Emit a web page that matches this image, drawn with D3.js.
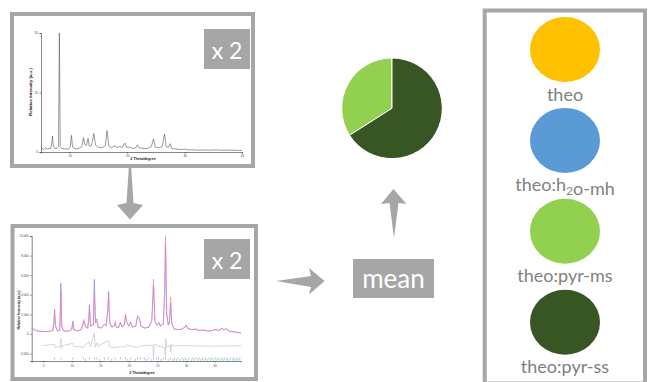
<!DOCTYPE html>
<html>
<head>
<meta charset="utf-8">
<script src="https://cdn.jsdelivr.net/npm/d3@7"></script>
<style>
  html, body { margin: 0; padding: 0; background: #fff; }
  svg { display: block; }
</style>
</head>
<body>
<div id="chart"></div>
<script>
// ---- phases and mean composition ----
const phaseLabels = ['theo', 'theo:h2o-mh', 'theo:pyr-ms', 'theo:pyr-ss'];
const phaseColors = ['#ffc000', '#5b9bd5', '#92d050', '#375623'];
const meanFractions = [0, 0, 34, 66];

// ---- top panel: measured powder pattern ----
const topTheta = [5.0, 5.2, 5.5, 5.8, 6.1, 6.4, 6.7, 6.85, 7.0, 7.15, 7.4, 7.8, 8.05, 8.2, 8.35, 8.6, 9.2, 9.8,
  10.1, 10.3, 10.5, 11.0, 11.6, 12.1, 12.4, 12.6, 12.9, 13.2, 13.4, 13.8, 14.2, 14.5, 14.8, 15.3, 15.8, 16.2,
  16.5, 16.8, 17.3, 17.9, 18.2, 18.8, 19.1, 19.6, 19.9, 20.5, 21.0, 21.5, 21.8, 22.1, 22.8, 23.5, 24.2, 24.6,
  24.9, 25.5, 26.1, 26.5, 26.8, 27.2, 27.5, 27.8, 28.5, 29.5, 30.1, 30.5, 31.5, 32.5, 33.5, 34.5, 35.5, 36.5,
  37.5, 38.5, 40.0];
const topIntensity = [0.3, 0.6, 0.4, 0.7, 0.5, 0.6, 0.6, 1.2, 2.7, 1.0, 0.6, 0.6, 0.9, 20, 0.9, 0.6, 0.5, 0.5,
  0.9, 2.8, 0.8, 0.5, 0.6, 0.9, 2.4, 1.3, 1.1, 2.3, 1.0, 1.1, 3.1, 1.2, 0.9, 0.7, 0.8, 1.1,
  3.6, 1.0, 0.7, 1.1, 0.7, 1.0, 0.7, 1.5, 0.8, 0.8, 0.6, 0.7, 1.2, 0.7, 0.6, 0.6, 0.9, 2.2,
  0.8, 0.7, 0.9, 3.0, 0.9, 0.8, 1.4, 0.6, 0.5, 0.4, 0.5, 0.35, 0.35, 0.3, 0.35, 0.3, 0.35, 0.3,
  0.3, 0.3, 0.25];
const topXTicks = [10, 20, 30, 40];
const topYTicks = [0, 10, 20];

// ---- bottom panel: Rietveld fit ----
const fitTheta = [3.0, 3.5, 4.0, 5.0, 6.0, 6.7, 6.9, 7.0, 7.15, 7.5, 7.9, 8.0, 8.1, 8.25, 8.6, 9.5, 10.0, 10.2,
  10.4, 11.0, 11.7, 12.0, 12.15, 12.4, 12.8, 13.0, 13.1, 13.3, 13.8, 13.95, 14.15, 14.4, 14.6, 15.2, 15.7, 16.0,
  16.3, 16.45, 16.65, 17.0, 17.4, 17.6, 17.8, 18.2, 18.5, 18.8, 19.2, 19.4, 19.6, 20.0, 20.3, 20.6, 21.2, 21.5,
  21.8, 22.1, 22.8, 23.5, 24.0, 24.3, 24.55, 24.9, 25.2, 25.5, 26.0, 26.25, 26.4, 26.6, 26.9, 27.1, 27.3, 27.5,
  27.9, 28.6, 29.3, 29.8, 30.0, 30.3, 31.0, 31.7, 32.2, 33.0, 33.8, 34.6, 35.2, 35.8, 36.3, 36.6, 37.0, 37.5,
  38.5, 39.6];
const fitObserved = [700, 450, 320, 250, 250, 350, 1400, 2520, 900, 300, 350, 2500, 5170, 800, 300, 300, 500, 1330,
  450, 300, 450, 1100, 1330, 700, 600, 1800, 2960, 800, 1000, 5580, 1200, 1530, 700, 600, 1000, 800,
  2500, 4320, 1200, 700, 800, 1090, 700, 650, 1100, 700, 900, 1870, 1200, 800, 1230, 700, 800, 1700,
  1600, 800, 600, 700, 1300, 4900, 1200, 900, 1200, 800, 1000, 4000, 9150, 2000, 900, 1200, 3130, 1000,
  500, 450, 500, 700, 900, 550, 450, 500, 350, 400, 300, 350, 450, 350, 600, 400, 550, 300,
  200, 100];
const fitCalculated = [550, 380, 300, 250, 250, 330, 1200, 2170, 800, 300, 330, 2000, 4390, 700, 300, 300, 450, 1090,
  420, 300, 450, 1200, 1500, 750, 600, 1500, 2520, 800, 900, 4220, 1100, 1230, 650, 600, 1000, 800,
  2200, 3750, 1100, 700, 800, 1330, 700, 650, 1230, 700, 900, 2040, 1250, 800, 1230, 700, 800, 1940,
  1700, 800, 600, 700, 1400, 5610, 1300, 900, 1200, 850, 1000, 4500, 10030, 2100, 900, 1300, 3810, 1100,
  500, 450, 500, 700, 880, 550, 450, 500, 350, 400, 300, 350, 450, 350, 600, 400, 550, 300,
  200, 100];
const diffTheta = [5.0, 7.0, 7.1, 8.05, 8.1, 8.2, 8.35, 10.2, 10.35, 12.1, 12.3, 13.1, 13.25, 13.95, 14.1, 14.4,
  14.6, 16.45, 16.6, 17.6, 18.5, 19.4, 19.6, 21.5, 22.0, 24.2, 24.3, 24.45, 25.0, 26.3, 26.35, 26.45, 26.6,
  27.25, 27.3, 27.45, 28.0, 30.0, 35.0, 39.6];
const diffValues = [-1200, -1050, -1350, -1300, -450, -1500, -1200, -950, -1250, -1350, -1150, -800, -1300, 80, -1350, -900,
  -1250, -650, -1300, -1400, -1300, -1350, -1100, -1400, -1200, -1150, -2300, -1000, -1200, -1400, -2300, -500, -1300,
  -1200, -1850, -1100, -1200, -1200, -1250, -1200];
const reflectionsBlue = [7.0, 8.1, 10.2, 12.1, 13.1, 14.0, 14.4, 15.7, 16.4, 17.6, 18.5, 19.4, 20.3, 21.5, 22.0, 22.7,
  23.4, 24.3, 24.8, 25.2, 26.0, 26.4, 27.3, 28.0, 28.6, 29.3, 29.9, 30.5, 31.2, 31.7, 32.3, 32.9, 33.4, 34.0,
  34.5, 35.1, 35.6, 36.2, 36.7, 37.2, 37.8, 38.3, 38.9, 39.4];
const reflectionsGreen = [12.4, 14.9, 17.0, 19.8, 21.1, 23.0, 24.0, 25.6, 26.9, 27.7, 28.3, 29.0, 29.6, 30.2, 30.9,
  31.4, 32.0, 32.6, 33.1, 33.7, 34.3, 34.8, 35.4, 35.9, 36.5, 37.0, 37.5, 38.1, 38.6, 39.1];
const fitXTicks = [5, 10, 15, 20, 25, 30, 35];
const fitYTicks = [-2000, 0, 2000, 4000, 6000, 8000, 10000];

// ---- layout ----
const W = 648, H = 382;
const GREY = '#a6a6a6';
const BIG_FONT = 'Lato, "Open Sans", sans-serif';
const SMALL_FONT = '"Liberation Sans", Arial, sans-serif';

const svg = d3.select('#chart').append('svg').attr('width', W).attr('height', H);

// arrows (drawn first so panel fills hide their tails)
const arrowLine = d3.line();
const arrows = [
  [[130, 150], [133.5, 203], [143, 205], [130, 219.5], [117, 205], [126.5, 203]],
  [[276, 281], [311, 276], [309, 268], [324.5, 281], [309, 294.5], [311, 287]],
  [[394, 238], [389.5, 203], [381, 204], [393.5, 189], [406.5, 204], [398.5, 203]]
];
svg.selectAll('path.arrow').data(arrows).enter().append('path')
  .attr('class', 'arrow').attr('d', d => arrowLine(d) + 'Z').attr('fill', GREY);

// panel frames
function frame(x, y, w, h) {
  svg.append('rect').attr('x', x).attr('y', y).attr('width', w).attr('height', h)
    .attr('fill', '#fff').attr('stroke', GREY).attr('stroke-width', 4);
}
frame(12, 14, 241, 152);
frame(12.5, 226, 243.5, 153);
frame(484.7, 10.5, 160.3, 373);

// label boxes
function labelBox(x, y, w, h, text, size, baseline) {
  svg.append('rect').attr('x', x).attr('y', y).attr('width', w).attr('height', h).attr('fill', GREY);
  svg.append('text').attr('x', x + w / 2).attr('y', baseline).attr('text-anchor', 'middle')
    .attr('font-family', BIG_FONT).attr('font-size', size).attr('fill', '#fff').text(text);
}

// small axis helper
function styleAxis(g) {
  g.selectAll('path, line').attr('stroke', '#333').attr('stroke-width', 0.6);
  g.selectAll('text').attr('font-family', SMALL_FONT).attr('font-size', 3).attr('fill', '#444');
}

// ---- top panel plot ----
const xTop = d3.scaleLinear().domain([5, 40]).range([41, 242]);
const yTop = d3.scaleLinear().domain([0, 20]).range([152, 33]);
const topPlot = svg.append('g');

topPlot.append('g').attr('transform', 'translate(0,152)')
  .call(d3.axisBottom(xTop).tickValues(topXTicks).tickSize(1.5).tickPadding(1.5))
  .call(styleAxis);
topPlot.append('g').attr('transform', 'translate(41,0)')
  .call(d3.axisLeft(yTop).tickValues(topYTicks).tickSize(1.5).tickPadding(1.5))
  .call(styleAxis);

topPlot.append('path')
  .datum(d3.zip(topTheta, topIntensity))
  .attr('fill', 'none').attr('stroke', '#555').attr('stroke-width', 0.6)
  .attr('d', d3.line().x(d => xTop(d[0])).y(d => yTop(d[1])));

topPlot.append('text').attr('x', 143).attr('y', 160).attr('text-anchor', 'middle')
  .attr('font-family', SMALL_FONT).attr('font-weight', 'bold').attr('font-size', 3.6).attr('fill', '#222')
  .text('2 Theta/degree');
topPlot.append('text').attr('transform', 'translate(32,92) rotate(-90)').attr('text-anchor', 'middle')
  .attr('font-family', SMALL_FONT).attr('font-weight', 'bold').attr('font-size', 4.4).attr('fill', '#222')
  .text('Relative Intensity (a.u.)');

labelBox(204, 29, 46, 40, 'x 2', 23, 59);

// ---- bottom panel plot ----
const xFit = d3.scaleLinear().domain([3, 39.6]).range([31.7, 241]);
const yFit = d3.scaleLinear().domain([-2760, 10000]).range([361, 236]);
const fitPlot = svg.append('g');

fitPlot.append('g').attr('transform', 'translate(0,361)')
  .call(d3.axisBottom(xFit).tickValues(fitXTicks).tickSize(1.5).tickPadding(2))
  .call(styleAxis);
fitPlot.append('g').attr('transform', 'translate(31.7,0)')
  .call(d3.axisLeft(yFit).tickValues(fitYTicks).tickFormat(d3.format(',')).tickSize(1.5).tickPadding(1.5))
  .call(styleAxis);

// reflection markers
fitPlot.selectAll('line.refB').data(reflectionsBlue).enter().append('line')
  .attr('x1', d => xFit(d)).attr('x2', d => xFit(d))
  .attr('y1', yFit(-2400)).attr('y2', yFit(-2600))
  .attr('stroke', '#5a6cf0').attr('stroke-width', 0.5);
fitPlot.selectAll('line.refG').data(reflectionsGreen).enter().append('line')
  .attr('x1', d => xFit(d)).attr('x2', d => xFit(d))
  .attr('y1', yFit(-2550)).attr('y2', yFit(-2740))
  .attr('stroke', '#3fa34d').attr('stroke-width', 0.5);

const fitLine = d3.line().x(d => xFit(d[0])).y(d => yFit(d[1]));
fitPlot.append('path').datum(d3.zip(diffTheta, diffValues))
  .attr('fill', 'none').attr('stroke', '#c4c4c4').attr('stroke-width', 0.7).attr('d', fitLine);
fitPlot.append('path').datum(d3.zip(fitTheta, fitObserved))
  .attr('fill', 'none').attr('stroke', '#8080ff').attr('stroke-width', 0.7).attr('d', fitLine);
fitPlot.append('path').datum(d3.zip(fitTheta, fitCalculated))
  .attr('fill', 'none').attr('stroke', '#ff7890').attr('stroke-width', 0.7).attr('stroke-opacity', 0.8)
  .attr('d', fitLine);

fitPlot.append('text').attr('x', 142).attr('y', 373.5).attr('text-anchor', 'middle')
  .attr('font-family', SMALL_FONT).attr('font-weight', 'bold').attr('font-size', 3.6).attr('fill', '#222')
  .text('2 Theta/degree');
fitPlot.append('text').attr('transform', 'translate(20,310) rotate(-90)').attr('text-anchor', 'middle')
  .attr('font-family', SMALL_FONT).attr('font-weight', 'bold').attr('font-size', 3.6).attr('fill', '#222')
  .text('Relative Intensity (a.u.)');

labelBox(204, 239, 46, 40, 'x 2', 23, 269);

// ---- mean box ----
labelBox(353, 259, 81, 39, 'mean', 26, 288);

// ---- pie of mean composition ----
const total = d3.sum(meanFractions);
const lead = d3.sum(meanFractions.slice(0, -1));
const start = -2 * Math.PI * lead / total;
const pie = d3.pie().sort(null).startAngle(start).endAngle(start + 2 * Math.PI);
const arc = d3.arc().innerRadius(0).outerRadius(50.3);

svg.append('g').attr('transform', 'translate(392,108.3)')
  .selectAll('path').data(pie(meanFractions).filter(d => d.value > 0)).enter().append('path')
  .attr('d', arc).attr('fill', d => phaseColors[d.index])
  .attr('stroke', '#fff').attr('stroke-width', 1);

// ---- legend ----
const legendY = d3.scalePoint().domain(phaseLabels).range([49.5, 322.2]);
const legend = svg.append('g').selectAll('g').data(phaseLabels).enter().append('g')
  .attr('transform', d => `translate(565,${legendY(d)})`);

legend.append('ellipse').attr('rx', 35).attr('ry', 32.5).attr('fill', (d, i) => phaseColors[i]);

legend.append('text').attr('y', 51).attr('text-anchor', 'middle')
  .attr('font-family', BIG_FONT).attr('font-size', 18).attr('fill', '#7f7f7f')
  .each(function (d) {
    const t = d3.select(this);
    d.split(/(\d)/).forEach(part => {
      if (/^\d$/.test(part)) {
        t.append('tspan').attr('font-size', 12).attr('dy', 4).text(part);
        t.append('tspan').attr('dy', -4).text('');
      } else {
        t.append('tspan').text(part);
      }
    });
  });
</script>
</body>
</html>
